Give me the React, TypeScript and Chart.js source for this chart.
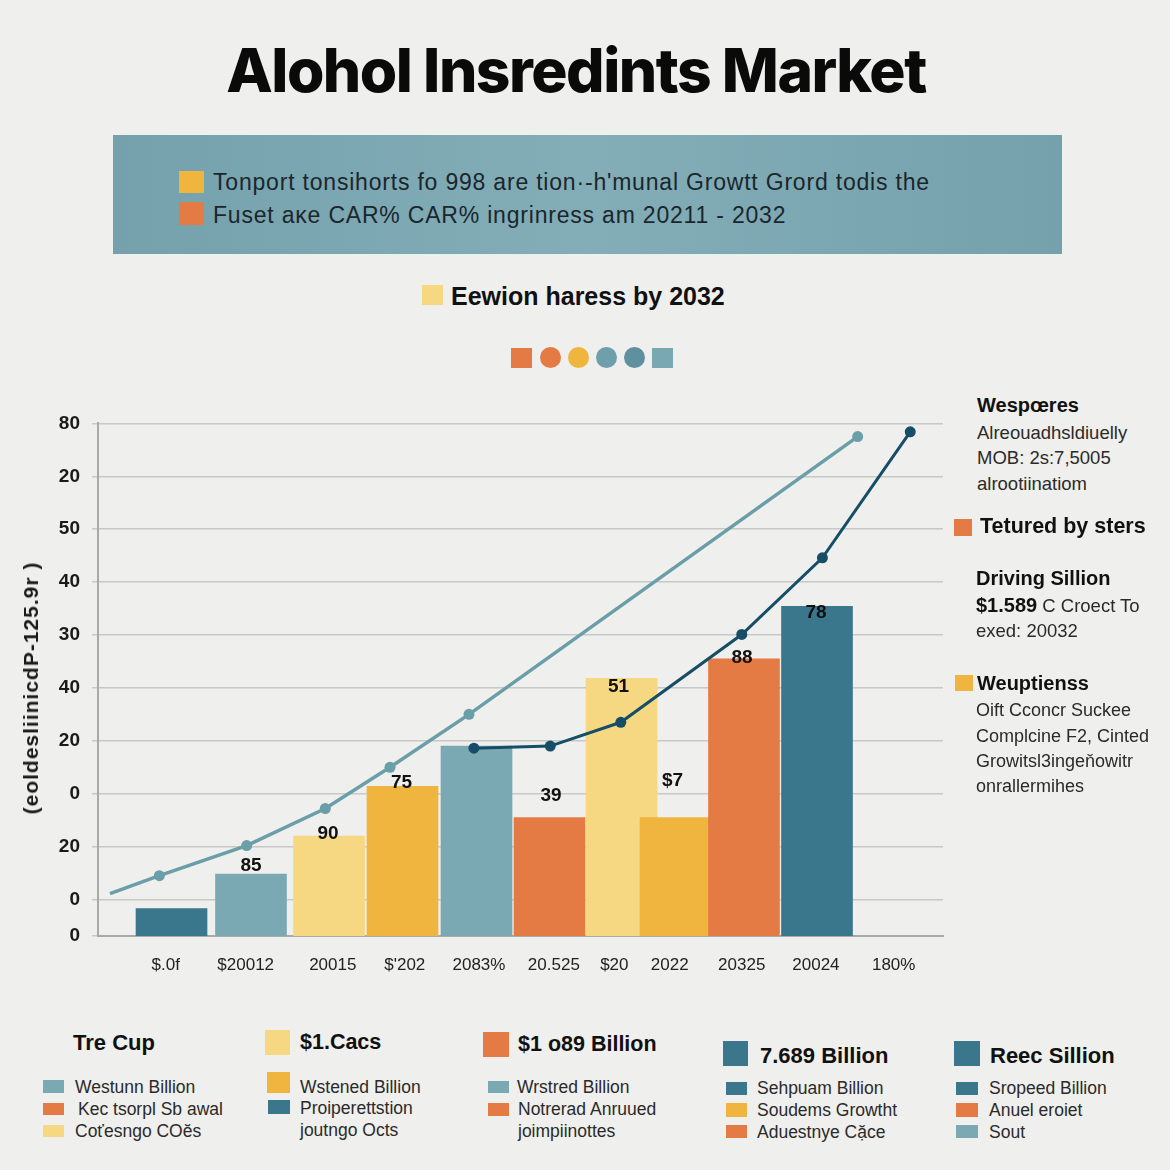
import React, { useEffect, useRef } from "react";
import { Chart, registerables } from "chart.js";

Chart.register(...registerables);

// ---------- data ----------
const barPositions = [0, 1.104, 2.188, 3.208, 4.236, 5.25, 6.25, 7.0, 7.951, 8.965];
const barValues = [8.3, 14.8, 22.0, 31.4, 39.0, 25.5, 51.8, 25.5, 55.5, 65.4];
const barLabels = ["", "85", "90", "75", "", "39", "51", "$7", "88", "78"];

const lightLineX = [-0.854, -0.169, 1.044, 2.136, 3.035, 4.132, 9.53];
const lightLineY = [11.1, 14.5, 20.2, 27.2, 35.0, 45.0, 97.5];

const darkLineX = [4.2, 5.26, 6.24, 7.92, 9.04, 10.26];
const darkLineY = [38.6, 39.0, 43.5, 60.1, 74.6, 98.4];

const xTickPositions = [-0.08, 1.03, 2.24, 3.24, 4.27, 5.31, 6.15, 6.92, 7.92, 8.95, 10.03];
const xTickLabels = ["$.0f", "$20012", "20015", "$'202", "2083%", "20.525", "$20", "2022", "20325", "20024", "180%"];

const yTickValues = [3.1, 10, 20, 30, 40, 50, 60, 70, 80, 90, 100];
const yTickLabels = ["0", "0", "20", "0", "20", "40", "30", "40", "50", "20", "80"];

// ---------- styles ----------
const C = {
  dark: "#3a778c",
  light: "#7aa8b3",
  pale: "#f6d882",
  amber: "#efb53e",
  orange: "#e47b45",
  lineLight: "#6a9ea8",
  lineDark: "#154e66",
  text: "#1c1c1c",
};
const barColors = [C.dark, C.light, C.pale, C.amber, C.light, C.orange, C.pale, C.amber, C.orange, C.dark];
const labelOffsets: [number, number][] = [
  [0, 0], [0, -8], [-1, -2], [-1, -4], [0, 0], [1.5, -22], [-3, 8], [-3, -37], [-2, -1], [-1, 6],
];

const FONT = "'Liberation Sans', Arial, sans-serif";

const labelPlugin = {
  id: "barLabels",
  afterDatasetsDraw(chart: any) {
    const meta = chart.getDatasetMeta(2);
    const ctx = chart.ctx;
    ctx.save();
    ctx.font = `bold 19px ${FONT}`;
    ctx.fillStyle = "#111";
    ctx.textAlign = "center";
    ctx.textBaseline = "middle";
    meta.data.forEach((el: any, i: number) => {
      const t = barLabels[i];
      if (!t) return;
      const [dx, dy] = labelOffsets[i];
      ctx.fillText(t, el.x + dx, el.y + dy);
    });
    ctx.restore();
  },
};

function ChartCanvas() {
  const ref = useRef<HTMLCanvasElement>(null);
  useEffect(() => {
    if (!ref.current) return;
    Chart.defaults.font.family = FONT;
    const chart = new Chart(ref.current, {
      type: "bar",
      data: {
        datasets: [
          {
            type: "line",
            data: lightLineX.map((x, i) => ({ x, y: lightLineY[i] })),
            borderColor: C.lineLight,
            borderWidth: 3.5,
            pointRadius: lightLineX.map((_, i) => (i === 0 ? 0 : 5.5)),
            pointBackgroundColor: C.lineLight,
            pointBorderWidth: 0,
            tension: 0,
            order: 0,
          } as any,
          {
            type: "line",
            data: darkLineX.map((x, i) => ({ x, y: darkLineY[i] })),
            borderColor: C.lineDark,
            borderWidth: 3,
            pointRadius: 5.5,
            pointBackgroundColor: C.lineDark,
            pointBorderWidth: 0,
            tension: 0,
            order: 0,
          } as any,
          {
            type: "bar",
            data: barPositions.map((x, i) => ({ x, y: barValues[i] })),
            backgroundColor: barColors,
            barThickness: 71,
            borderWidth: 0,
            order: 1,
          } as any,
        ],
      },
      options: {
        animation: false,
        responsive: false,
        maintainAspectRatio: false,
        layout: { padding: { top: 18, right: 17, left: 0, bottom: 0 } },
        plugins: { legend: { display: false }, tooltip: { enabled: false } },
        scales: {
          x: {
            type: "linear",
            min: -1.021,
            max: 10.715,
            offset: false,
            bounds: "data",
            afterBuildTicks: (s: any) => {
              s.ticks = xTickPositions.map((v) => ({ value: v }));
            },
            afterFit: (s: any) => {
              s.height = 64;
            },
            ticks: {
              callback: (_v: any, i: number) => xTickLabels[i],
              autoSkip: false,
              maxRotation: 0,
              padding: 19,
              color: "#222",
              font: { size: 17 },
            },
            grid: { display: true, drawOnChartArea: false, drawTicks: false, offset: false },
            border: { display: true, color: "#a9a9a9", width: 2 },
          },
          y: {
            type: "linear",
            min: 3.1,
            max: 100,
            bounds: "data",
            afterBuildTicks: (s: any) => {
              s.ticks = yTickValues.map((v) => ({ value: v }));
            },
            afterFit: (s: any) => {
              s.width = 98;
            },
            ticks: {
              callback: (_v: any, i: number) => yTickLabels[i],
              padding: 12,
              color: "#1a1a1a",
              font: { size: 19, weight: "bold" },
            },
            grid: { color: "#c8c8c8", lineWidth: 1.5, tickLength: 6 },
            border: { display: true, color: "#a9a9a9", width: 2 },
          },
        } as any,
      },
      plugins: [labelPlugin],
    });
    return () => chart.destroy();
  }, []);
  return (
    <canvas
      ref={ref}
      width={960}
      height={600}
      style={{ position: "absolute", left: 0, top: 400, width: 960, height: 600 }}
    />
  );
}

type TProps = { x: number; y: number; size: number; bold?: boolean; children: React.ReactNode; color?: string; ls?: number };
function T({ x, y, size, bold, children, color, ls }: TProps) {
  return (
    <div
      style={{
        position: "absolute",
        left: x,
        top: y,
        transform: "translateY(-50%)",
        fontSize: size,
        fontWeight: bold ? 700 : 400,
        color: color || "#2a2a2a",
        whiteSpace: "nowrap",
        lineHeight: 1.2,
        letterSpacing: ls || 0,
        fontFamily: FONT,
      }}
    >
      {children}
    </div>
  );
}

function Sq({ x, y, w, h, c, round }: { x: number; y: number; w: number; h: number; c: string; round?: boolean }) {
  return (
    <div
      style={{
        position: "absolute",
        left: x,
        top: y,
        width: w,
        height: h,
        background: c,
        borderRadius: round ? "50%" : 0,
      }}
    />
  );
}

export default function App() {
  return (
    <div
      style={{
        position: "absolute",
        left: 0,
        top: 0,
        width: 1170,
        height: 1170,
        background: "#efefed",
        overflow: "hidden",
        fontFamily: FONT,
      }}
    >
      {/* title */}
      <div
        style={{
          position: "absolute",
          left: 576,
          top: 70,
          transform: "translate(-50%, -50%)",
          fontFamily: "Inter, sans-serif",
          fontWeight: 800,
          fontSize: 60.5,
          letterSpacing: -1.5,
          color: "#0a0a0a",
          whiteSpace: "nowrap",
          lineHeight: 1,
        }}
      >
        Alohol Insredints Market
      </div>

      {/* banner */}
      <div
        style={{
          position: "absolute",
          left: 113,
          top: 135,
          width: 949,
          height: 119,
          background: "linear-gradient(90deg, #74a1ac 0%, #83aeb8 50%, #74a1ac 100%)",
        }}
      />
      <Sq x={179} y={171} w={25} h={22} c={C.amber} />
      <T x={213} y={183} size={23} ls={0.8} color="#1b262c">
        Tonport tonsihorts fo 998 are tion·-h'munal Growtt Grord todis the
      </T>
      <Sq x={179} y={202} w={25} h={23} c={C.orange} />
      <T x={213} y={216} size={23} ls={0.8} color="#1b262c">
        Fuset aĸe CAR% CAR% ingrinress am 20211 - 2032
      </T>

      {/* subtitle */}
      <Sq x={422} y={285} w={21} h={20} c={C.pale} />
      <T x={451} y={296} size={25} bold color="#111">
        Eewion haress by 2032
      </T>

      {/* shapes row */}
      <Sq x={511} y={348} w={21} h={20} c={C.orange} />
      <Sq x={540} y={347} w={21} h={21} c={C.orange} round />
      <Sq x={568} y={347} w={21} h={21} c={C.amber} round />
      <Sq x={596} y={347} w={21} h={21} c="#6f9fab" round />
      <Sq x={624} y={347} w={21} h={21} c="#5e909d" round />
      <Sq x={652} y={348} w={21} h={20} c="#79a8b3" />

      {/* chart */}
      <ChartCanvas />

      {/* y axis title */}
      <div
        style={{
          position: "absolute",
          left: 31,
          top: 688,
          transform: "translate(-50%, -50%) rotate(-90deg)",
          fontSize: 21,
          fontWeight: 700,
          letterSpacing: 1,
          color: "#1a1a1a",
          whiteSpace: "nowrap",
          fontFamily: FONT,
        }}
      >
        (eoldesliinicdP-125.9r )
      </div>

      {/* right annotations */}
      <T x={977} y={405} size={20} bold color="#111">Wespœres</T>
      <T x={977} y={433} size={18.5}>Alreouadhsldiuelly</T>
      <T x={977} y={458} size={18.5}>MOB: 2s:7,5005</T>
      <T x={977} y={484} size={18.5}>alrootiinatiom</T>
      <Sq x={954} y={519} w={18} h={17} c={C.orange} />
      <T x={980} y={527} size={21.5} bold color="#111">Tetured by sters</T>
      <T x={976} y={578} size={20} bold color="#111">Driving Sillion</T>
      <T x={976} y={605} size={18.5}>
        <span style={{ fontWeight: 700, fontSize: 20, color: "#111" }}>$1.589</span> C Croect To
      </T>
      <T x={976} y={631} size={18.5}>exed: 20032</T>
      <Sq x={955} y={675} w={18} h={16} c={C.amber} />
      <T x={977} y={683} size={20} bold color="#111">Weuptienss</T>
      <T x={976} y={711} size={18}>Oift Cconcr Suckee</T>
      <T x={976} y={737} size={18}>Complcine  F2, Cinted</T>
      <T x={976} y={762} size={18}>Growitsl3ingeňowitr</T>
      <T x={976} y={787} size={18}>onrallermihes</T>

      {/* bottom legend blocks */}
      <T x={73} y={1043} size={22} bold color="#111">Tre Cup</T>
      <Sq x={43} y={1080} w={21} h={13} c={C.light} />
      <T x={75} y={1087} size={17.5}>Westunn Billion</T>
      <Sq x={43} y={1103} w={21} h={12} c={C.orange} />
      <T x={78} y={1109} size={17.5}>Kec tsorpl Sb awal</T>
      <Sq x={43} y={1125} w={21} h={12} c={C.pale} />
      <T x={75} y={1131} size={17.5}>Coťesngo COĕs</T>

      <Sq x={265} y={1030} w={25} h={25} c={C.pale} />
      <T x={300} y={1043} size={21.5} bold color="#111">$1.Cacs</T>
      <Sq x={267} y={1072} w={23} h={21} c={C.amber} />
      <T x={300} y={1087} size={17.5}>Wstened Billion</T>
      <Sq x={268} y={1100} w={22} h={14} c={C.dark} />
      <T x={300} y={1108} size={17.5}>Proiperettstion</T>
      <T x={300} y={1130} size={17.5}>joutngo Octs</T>

      <Sq x={483} y={1032} w={26} h={25} c={C.orange} />
      <T x={518} y={1045} size={21.5} bold color="#111">$1 o89 Billion</T>
      <Sq x={488} y={1081} w={21} h={12} c={C.light} />
      <T x={517} y={1087} size={17.5}>Wrstred Billion</T>
      <Sq x={488} y={1103} w={21} h={13} c={C.orange} />
      <T x={518} y={1109} size={17.5}>Notrerad Anruued</T>
      <T x={518} y={1131} size={17.5}>joimpiinottes</T>

      <Sq x={723} y={1041} w={25} h={25} c={C.dark} />
      <T x={760} y={1056} size={22} bold color="#111">7.689 Billion</T>
      <Sq x={726} y={1082} w={21} h={13} c={C.dark} />
      <T x={757} y={1088} size={17.5}>Sehpuam Billion</T>
      <Sq x={726} y={1103} w={21} h={14} c={C.amber} />
      <T x={757} y={1110} size={17.5}>Soudems Growtht</T>
      <Sq x={726} y={1125} w={21} h={13} c={C.orange} />
      <T x={757} y={1132} size={17.5}>Aduestnye Cặce</T>

      <Sq x={954} y={1041} w={26} h={25} c={C.dark} />
      <T x={990} y={1056} size={22} bold color="#111">Reec Sillion</T>
      <Sq x={956} y={1082} w={22} h={13} c={C.dark} />
      <T x={989} y={1088} size={17.5}>Sropeed Billion</T>
      <Sq x={956} y={1103} w={22} h={14} c={C.orange} />
      <T x={989} y={1110} size={17.5}>Anuel eroiet</T>
      <Sq x={956} y={1125} w={22} h={13} c={C.light} />
      <T x={989} y={1132} size={17.5}>Sout</T>
    </div>
  );
}
